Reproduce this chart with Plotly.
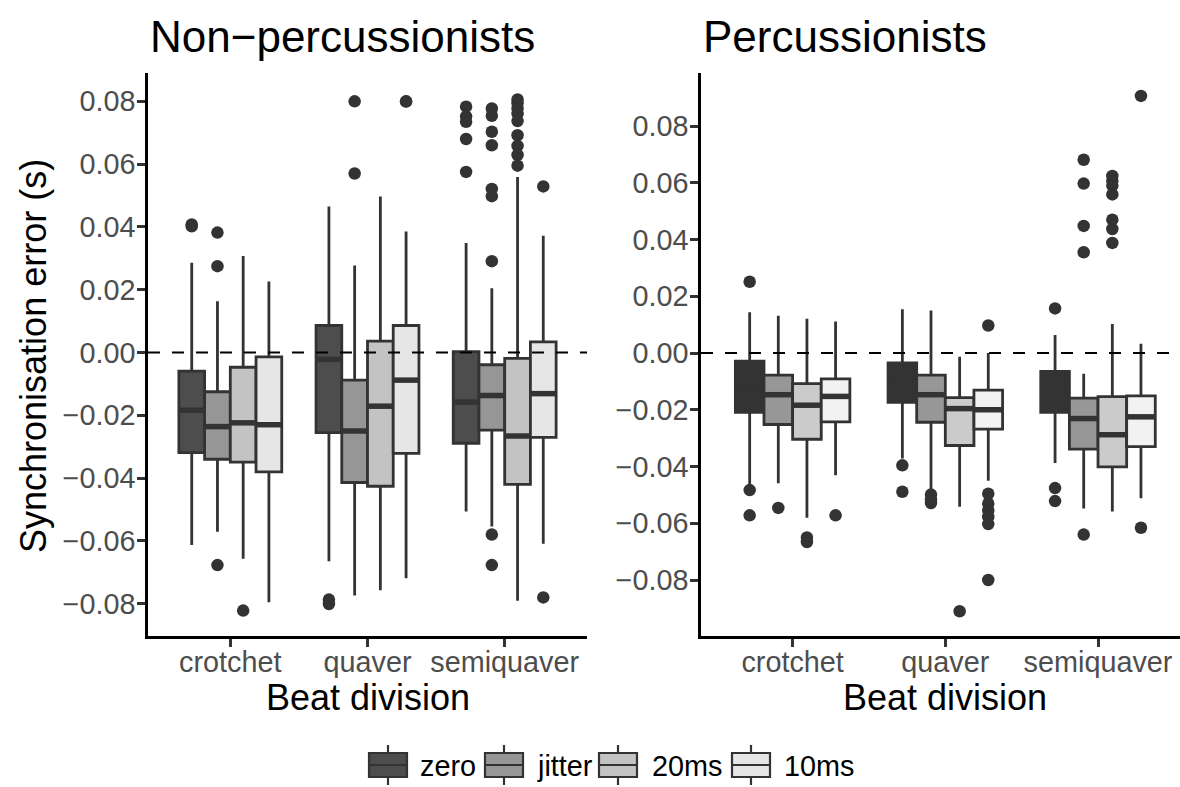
import plotly.graph_objects as go

# ---------------- data ----------------
categories = ["crotchet", "quaver", "semiquaver"]
conditions = ["zero", "jitter", "20ms", "10ms"]
panel_titles = ["Non\u2212percussionists", "Percussionists"]

# rows = conditions (zero, jitter, 20ms, 10ms); cols = categories
nonperc_lower = [[-0.0613, -0.0665, -0.0506], [-0.0571, -0.0774, -0.0554],
                 [-0.0657, -0.0757, -0.0791], [-0.0795, -0.0719, -0.0609]]
nonperc_q1 = [[-0.0319, -0.0255, -0.0289], [-0.0340, -0.0414, -0.0247],
              [-0.0349, -0.0426, -0.0420], [-0.0380, -0.0321, -0.0270]]
nonperc_median = [[-0.0184, -0.0022, -0.0158], [-0.0236, -0.0250, -0.0137],
                  [-0.0224, -0.0171, -0.0266], [-0.0230, -0.0088, -0.0131]]
nonperc_q3 = [[-0.0059, 0.0086, 0.0003], [-0.0125, -0.0088, -0.0039],
              [-0.0047, 0.0036, -0.0019], [-0.0014, 0.0086, 0.0034]]
nonperc_upper = [[0.0286, 0.0465, 0.0349], [0.0163, 0.0277, 0.0205],
                 [0.0307, 0.0497, 0.0559], [0.0226, 0.0385, 0.0372]]
nonperc_outliers = [
    [[0.0402, 0.0408], [-0.0787, -0.0801], [0.0783, 0.0752, 0.0735, 0.0680, 0.0575]],
    [[0.0382, 0.0275, -0.0677], [0.0800, 0.0570],
     [0.0777, 0.0754, 0.0703, 0.0660, 0.0521, 0.0498, 0.0291, -0.0580, -0.0677]],
    [[-0.0822], [], [0.0806, 0.0794, 0.0777, 0.0760, 0.0737, 0.0692, 0.0658, 0.0629, 0.0595]],
    [[], [0.0800, 0.0799], [0.0529, -0.0780]],
]

perc_lower = [[-0.0463, -0.0372, -0.0388], [-0.0459, -0.0493, -0.0548],
              [-0.0581, -0.0542, -0.0559], [-0.0431, -0.0450, -0.0512]]
perc_q1 = [[-0.0209, -0.0174, -0.0209], [-0.0252, -0.0244, -0.0339],
           [-0.0304, -0.0326, -0.0401], [-0.0243, -0.0268, -0.0330]]
perc_median = [[-0.0120, -0.0100, -0.0130], [-0.0147, -0.0147, -0.0231],
               [-0.0184, -0.0196, -0.0288], [-0.0153, -0.0200, -0.0225]]
perc_q3 = [[-0.0029, -0.0035, -0.0065], [-0.0078, -0.0078, -0.0159],
           [-0.0108, -0.0157, -0.0154], [-0.0091, -0.0131, -0.0151]]
perc_upper = [[0.0144, 0.0154, 0.0063], [0.0131, 0.0150, -0.0073],
              [0.0121, -0.0013, 0.0102], [0.0111, 0.0000, 0.0033]]
perc_outliers = [
    [[0.0251, -0.0483, -0.0572], [-0.0396, -0.0489], [0.0157, -0.0476, -0.0522]],
    [[-0.0546], [-0.0499, -0.0516, -0.0529], [0.0681, 0.0597, 0.0448, 0.0355, -0.0640]],
    [[-0.0650, -0.0666], [-0.0910], [0.0624, 0.0607, 0.0590, 0.0559, 0.0470, 0.0437, 0.0388]],
    [[-0.0572], [0.0097, -0.0496, -0.0531, -0.0555, -0.0578, -0.0603, -0.0800],
     [0.0906, -0.0616]],
]

# ---------------- styling ----------------
W, H = 1180, 787
FONT = "Liberation Sans, Arial, Helvetica, sans-serif"
fills_left = ["#4D4D4D", "#969696", "#C3C3C3", "#E6E6E6"]
fills_right = ["#333333", "#979797", "#CBCBCB", "#F2F2F2"]
EDGE = "#333333"
dodge_total = 0.75
bw = dodge_total / len(conditions)


def fx(px):
    return px / W


def fy(py):
    return 1 - py / H


panels = [
    dict(lower=nonperc_lower, q1=nonperc_q1, med=nonperc_median, q3=nonperc_q3,
         upper=nonperc_upper, out=nonperc_outliers, fills=fills_left, xa="x", ya="y"),
    dict(lower=perc_lower, q1=perc_q1, med=perc_median, q3=perc_q3,
         upper=perc_upper, out=perc_outliers, fills=fills_right, xa="x2", ya="y2"),
]

fig = go.Figure()
for p in panels:
    for ci, cond in enumerate(conditions):
        pos = [k + 1 + (ci - (len(conditions) - 1) / 2) * bw for k in range(len(categories))]
        fig.add_trace(go.Box(
            x=pos, q1=p["q1"][ci], median=p["med"][ci], q3=p["q3"][ci],
            lowerfence=p["lower"][ci], upperfence=p["upper"][ci],
            orientation="v", width=bw, whiskerwidth=0, boxpoints=False,
            fillcolor=p["fills"][ci], line=dict(color=EDGE, width=2.8),
            xaxis=p["xa"], yaxis=p["ya"], showlegend=False, hoverinfo="skip",
            name=cond))
        # thicker median segments (ggplot fatten)
        mx, my = [], []
        for k in range(len(categories)):
            mx += [pos[k] - bw / 2, pos[k] + bw / 2, None]
            my += [p["med"][ci][k], p["med"][ci][k], None]
        fig.add_trace(go.Scatter(x=mx, y=my, mode="lines",
                                 line=dict(color=EDGE, width=5.5),
                                 xaxis=p["xa"], yaxis=p["ya"],
                                 showlegend=False, hoverinfo="skip"))
        ox, oy = [], []
        for k in range(len(categories)):
            for v in p["out"][ci][k]:
                ox.append(pos[k])
                oy.append(v)
        fig.add_trace(go.Scatter(x=ox, y=oy, mode="markers",
                                 marker=dict(color=EDGE, size=12.5),
                                 xaxis=p["xa"], yaxis=p["ya"],
                                 showlegend=False, hoverinfo="skip"))

tick_vals = [-0.08, -0.06, -0.04, -0.02, 0.0, 0.02, 0.04, 0.06, 0.08]
common_x = dict(tickvals=[1, 2, 3], ticktext=categories, showline=True,
                linecolor="black", linewidth=2.5, ticks="outside", ticklen=8,
                tickwidth=2.5, tickcolor=EDGE, showgrid=False, zeroline=False,
                ticklabelstandoff=-9,
                tickfont=dict(size=28.8, color="#4D4D4D", family=FONT))
common_y = dict(tickvals=tick_vals, tickformat=".2f", showline=True,
                linecolor="black", linewidth=2.5, ticks="outside", ticklen=8,
                tickwidth=2.5, tickcolor=EDGE, showgrid=False, zeroline=False,
                ticklabelstandoff=-4,
                tickfont=dict(size=28.8, color="#4D4D4D", family=FONT),
                domain=[fy(636), fy(73)])

fig.update_layout(
    width=W, height=H, margin=dict(l=0, r=0, t=0, b=0),
    paper_bgcolor="white", plot_bgcolor="white", boxmode="overlay",
    font=dict(family=FONT, color="black"),
    xaxis=dict(domain=[fx(148), fx(587)], range=[0.4, 3.6], anchor="y", **common_x),
    yaxis=dict(range=[-(636 - 352.5) / 3140, (352.5 - 73) / 3140], anchor="x", **common_y),
    xaxis2=dict(domain=[fx(701), 1.0], range=[0.4, 0.4 + 479 / 152.7], anchor="y2", **common_x),
    yaxis2=dict(range=[-(636 - 353) / 2837.5, (353 - 73) / 2837.5], anchor="x2", **common_y),
)

shapes = []
for xa, ya in [("x", "y"), ("x2", "y2")]:
    shapes.append(dict(type="line", xref=f"{xa} domain", yref=ya, x0=0, x1=1, y0=0, y1=0,
                       line=dict(color="black", width=2.2, dash="12px,12px"), layer="above"))

annotations = []
# panel titles
for title, left in zip(panel_titles, [148, 701]):
    annotations.append(dict(text=title, x=fx(left), y=fy(37), xref="paper", yref="paper",
                            xanchor="left", yanchor="middle", showarrow=False,
                            font=dict(size=44, color="black", family=FONT)))
# axis titles
annotations.append(dict(text="Synchronisation error (s)", x=fx(33), y=fy(356), xref="paper",
                        yref="paper", xanchor="center", yanchor="middle", textangle=-90,
                        showarrow=False, font=dict(size=36, color="black", family=FONT)))
for cx in [367.5, 945]:
    annotations.append(dict(text="Beat division", x=fx(cx), y=fy(697), xref="paper",
                            yref="paper", xanchor="center", yanchor="middle",
                            showarrow=False, font=dict(size=36, color="black", family=FONT)))

# legend (ggplot-style boxplot keys)
key_left = [369, 485, 599, 732]
text_left = [418, 535, 650, 782]
for i, cond in enumerate(conditions):
    x0, x1 = key_left[i], key_left[i] + 38
    xc = (x0 + x1) / 2
    shapes.append(dict(type="line", xref="paper", yref="paper", x0=fx(xc), x1=fx(xc),
                       y0=fy(745), y1=fy(785), line=dict(color=EDGE, width=2.2)))
    shapes.append(dict(type="rect", xref="paper", yref="paper", x0=fx(x0), x1=fx(x1),
                       y0=fy(753), y1=fy(777), fillcolor=fills_left[i],
                       line=dict(color=EDGE, width=2.2)))
    shapes.append(dict(type="line", xref="paper", yref="paper", x0=fx(x0), x1=fx(x1),
                       y0=fy(765), y1=fy(765), line=dict(color=EDGE, width=2.2)))
    annotations.append(dict(text=cond, x=fx(text_left[i]), y=fy(766), xref="paper",
                            yref="paper", xanchor="left", yanchor="middle",
                            showarrow=False, font=dict(size=28.8, color="black", family=FONT)))

fig.update_layout(shapes=shapes, annotations=annotations)
fig.write_html("out.html")
